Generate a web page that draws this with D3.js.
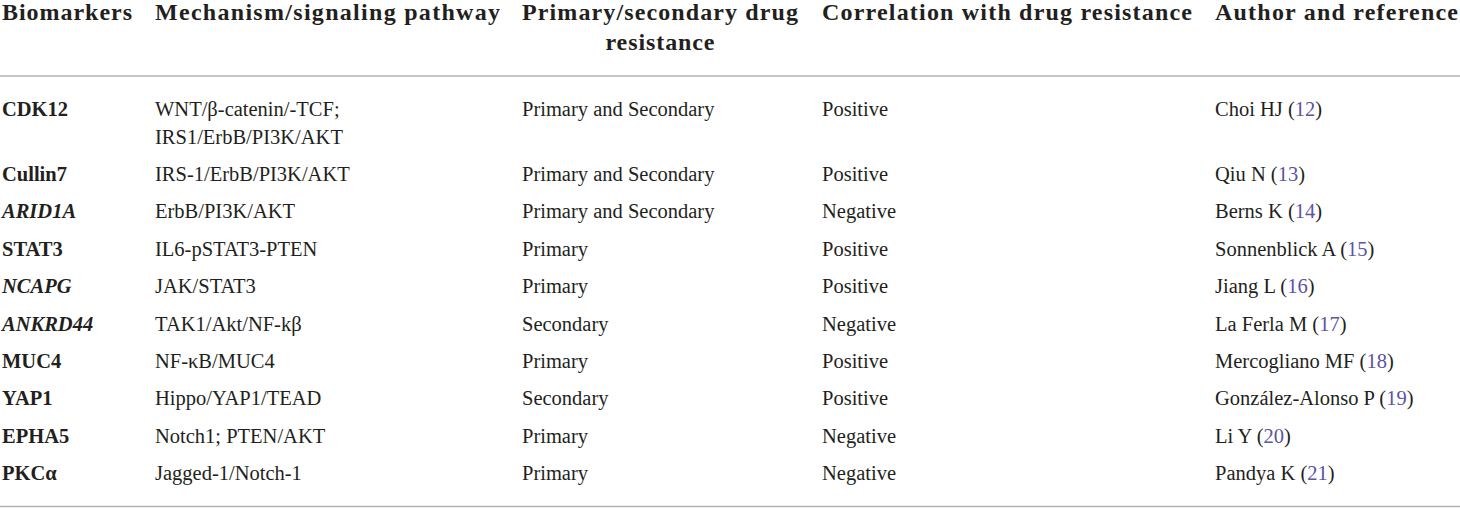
<!DOCTYPE html>
<html>
<head>
<meta charset="utf-8">
<script src="https://cdn.jsdelivr.net/npm/d3@7/dist/d3.min.js"></script>
<style>
  html, body { margin: 0; padding: 0; background: #fff; }
  svg { display: block; }
</style>
</head>
<body>
<svg id="chart" width="1460" height="508"></svg>
<script>
// ---- data ----
const headers = [
  ["Biomarkers"],
  ["Mechanism/signaling pathway"],
  ["Primary/secondary drug", "resistance"],
  ["Correlation with drug resistance"],
  ["Author and reference"]
];
const biomarkers = ["CDK12", "Cullin7", "ARID1A", "STAT3", "NCAPG", "ANKRD44", "MUC4", "YAP1", "EPHA5", "PKCα"];
const italicMarkers = ["ARID1A", "NCAPG", "ANKRD44"];
const mechanisms = [
  ["WNT/β-catenin/-TCF;", "IRS1/ErbB/PI3K/AKT"],
  ["IRS-1/ErbB/PI3K/AKT"],
  ["ErbB/PI3K/AKT"],
  ["IL6-pSTAT3-PTEN"],
  ["JAK/STAT3"],
  ["TAK1/Akt/NF-kβ"],
  ["NF-κB/MUC4"],
  ["Hippo/YAP1/TEAD"],
  ["Notch1; PTEN/AKT"],
  ["Jagged-1/Notch-1"]
];
const resistanceType = ["Primary and Secondary", "Primary and Secondary", "Primary and Secondary", "Primary", "Primary", "Secondary", "Primary", "Secondary", "Primary", "Primary"];
const correlation = ["Positive", "Positive", "Negative", "Positive", "Positive", "Negative", "Positive", "Positive", "Negative", "Negative"];
const authors = ["Choi HJ", "Qiu N", "Berns K", "Sonnenblick A", "Jiang L", "La Ferla M", "Mercogliano MF", "González-Alonso P", "Li Y", "Pandya K"];
const refs = ["12", "13", "14", "15", "16", "17", "18", "19", "20", "21"];

// ---- layout ----
const W = 1460, H = 508;
const svg = d3.select("#chart");
const font = "'Liberation Serif', 'Times New Roman', serif";
const textColor = "#231f20";
const refColor = "#5b53a4";
const ruleColor = "#b3b3b3";

const colKeys = ["marker", "mech", "type", "corr", "author"];
const x = d3.scaleOrdinal().domain(colKeys).range([2, 155, 522, 822, 1215]);
const headerWidths = [130, 345, 276, 370, 243];
const headerSecondWidth = 109;

// rows: baseline positions built from line counts
const firstBaseline = 115.5, rowStep = 37.4, lineStep = 28;
const rowIndex = d3.range(biomarkers.length);
const baselines = [];
let acc = firstBaseline;
rowIndex.forEach(i => { baselines.push(acc); acc += rowStep + (mechanisms[i].length - 1) * lineStep; });
const y = d3.scaleOrdinal().domain(rowIndex).range(baselines);

// header
const hg = svg.append("g").attr("font-family", font).attr("font-weight", "bold")
  .attr("font-size", 24).attr("fill", textColor);
headers.forEach((lines, c) => {
  if (lines.length === 1) {
    hg.append("text").attr("x", x(colKeys[c])).attr("y", 20)
      .attr("textLength", headerWidths[c]).attr("lengthAdjust", "spacing")
      .text(lines[0]);
  } else {
    const cx = x(colKeys[c]) + headerWidths[c] / 2;
    hg.append("text").attr("x", cx).attr("y", 20).attr("text-anchor", "middle")
      .attr("textLength", headerWidths[c]).attr("lengthAdjust", "spacing")
      .text(lines[0]);
    hg.append("text").attr("x", cx).attr("y", 49.5).attr("text-anchor", "middle")
      .attr("textLength", headerSecondWidth).attr("lengthAdjust", "spacing")
      .text(lines[1]);
  }
});

// rules
svg.append("line").attr("x1", 0).attr("x2", W).attr("y1", 76).attr("y2", 76)
  .attr("stroke", ruleColor).attr("stroke-width", 1.5);
svg.append("line").attr("x1", 0).attr("x2", W).attr("y1", 506.5).attr("y2", 506.5)
  .attr("stroke", ruleColor).attr("stroke-width", 1.5);

// body
const bg = svg.append("g").attr("font-family", font).attr("font-size", 20.5).attr("fill", textColor);
const rows = bg.selectAll("g.row").data(rowIndex).join("g").attr("class", "row");

rows.append("text")
  .attr("x", x("marker")).attr("y", i => y(i))
  .attr("font-weight", "bold")
  .attr("font-style", i => italicMarkers.includes(biomarkers[i]) ? "italic" : "normal")
  .text(i => biomarkers[i]);

rows.each(function(i) {
  const g = d3.select(this);
  mechanisms[i].forEach((line, k) => {
    g.append("text").attr("x", x("mech")).attr("y", y(i) + k * lineStep).text(line);
  });
});

rows.append("text").attr("x", x("type")).attr("y", i => y(i)).text(i => resistanceType[i]);
rows.append("text").attr("x", x("corr")).attr("y", i => y(i)).text(i => correlation[i]);

const at = rows.append("text").attr("x", x("author")).attr("y", i => y(i));
at.append("tspan").text(i => authors[i] + " (");
at.append("tspan").attr("fill", refColor).text(i => refs[i]);
at.append("tspan").text(")");
</script>
</body>
</html>
